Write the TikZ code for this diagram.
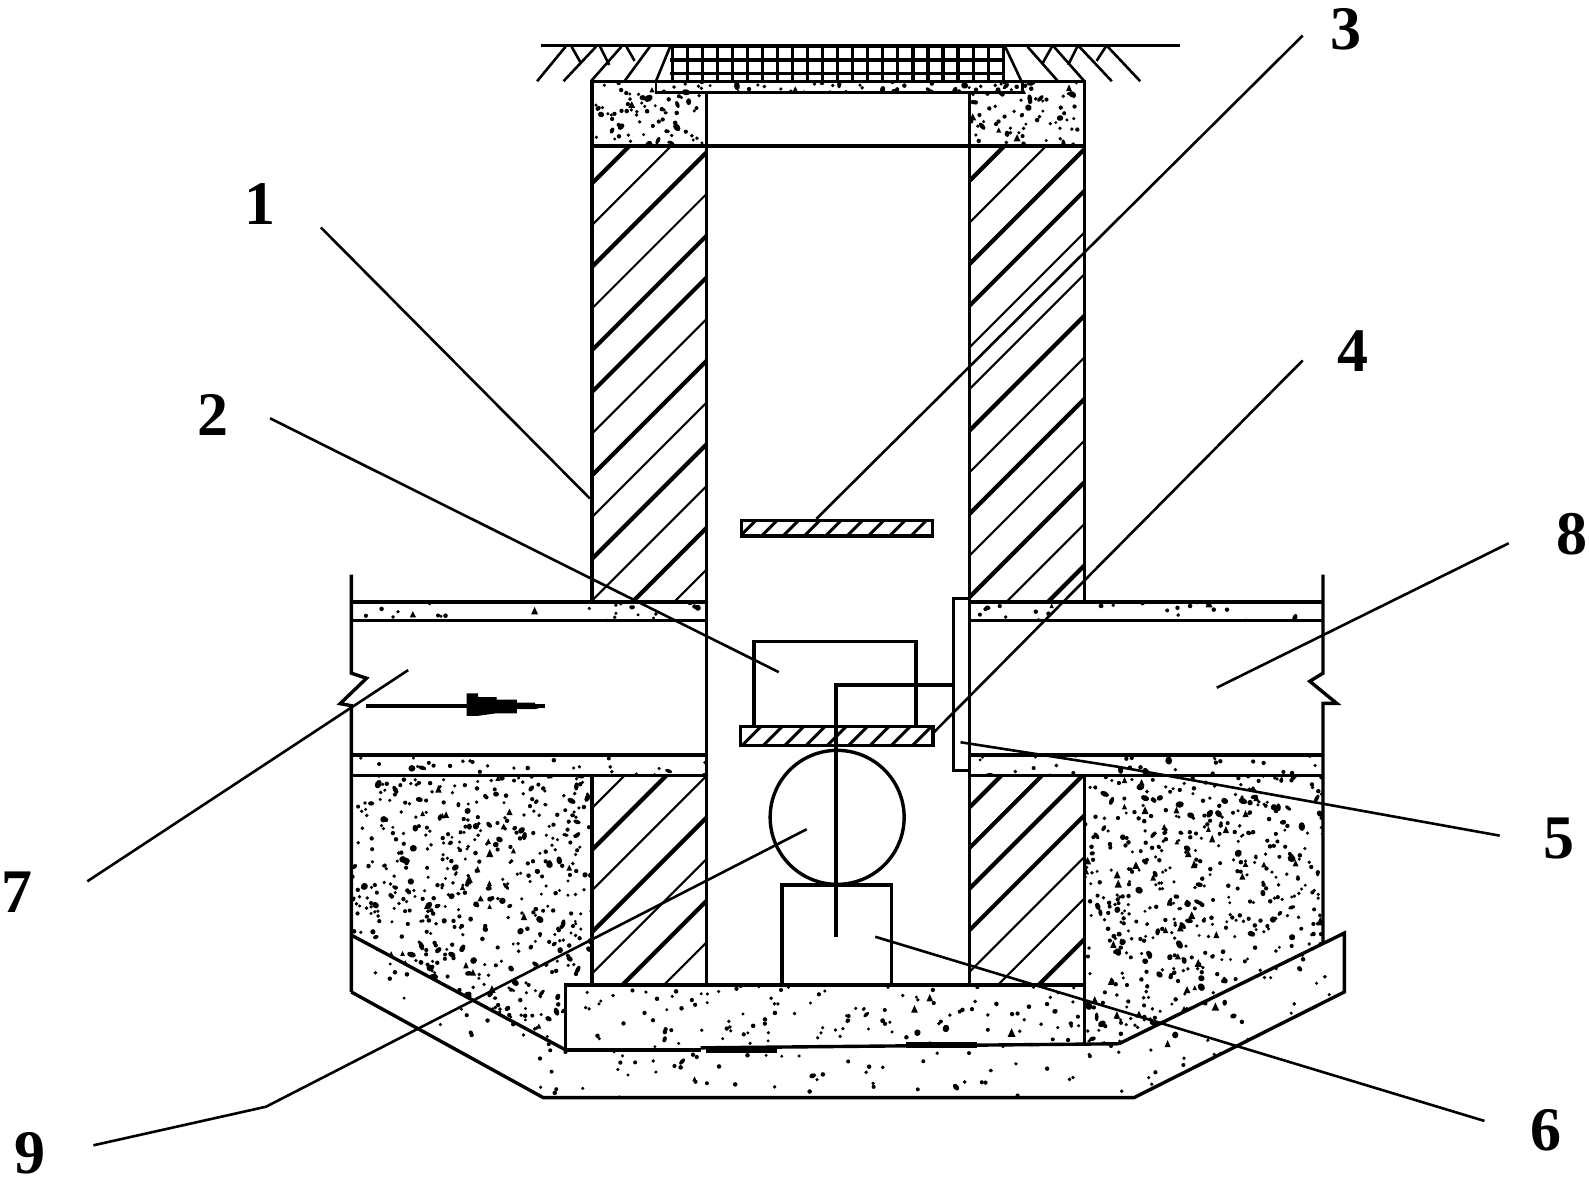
\documentclass[tikz,border=0pt]{standalone}
\usepackage{fontspec}
\setmainfont{Liberation Serif}
\tikzset{
  ln/.style={line width=1.7pt,line join=miter},
  lead/.style={line width=1.3pt},
  hatchA/.style={line width=1.05pt},
  hatchB/.style={line width=2.1pt},
  gridline/.style={line width=1.6pt},
  num/.style={font=\fontsize{31}{31}\selectfont\bfseries,inner sep=0pt},
}
\newcommand{\stipplefill}[7]{% path, n, xmin, xmax, ymin, ymax, blob fraction
  \begin{scope}
    \clip #1;
    \foreach \i in {1,...,#2}{
      \pgfmathsetmacro\sx{#3+rnd*(#4-#3)}
      \pgfmathsetmacro\sy{#5+rnd*(#6-#5)}
      \pgfmathsetmacro\sk{rnd}
      \ifdim\sk pt<#7pt
        \pgfmathsetmacro\sa{1.2+1.1*rnd}
        \pgfmathsetmacro\sb{0.9+0.8*rnd}
        \pgfmathsetmacro\sc{rnd*180}
        \pgfmathsetmacro\sq{rnd}
        \ifdim\sq pt<0.3pt
          \fill (\sx,\sy-\sa-\sa)--(\sx+\sa+\sb,\sy+\sa+\sb)--(\sx-\sa-\sb,\sy+\sa+\sb)--cycle;
        \else
          \fill (\sx,\sy) circle[x radius=\sa pt,y radius=\sb pt,rotate=\sc];
        \fi
      \else
        \pgfmathsetmacro\sr{0.8+0.35*rnd}
        \fill (\sx,\sy) circle[radius=\sr pt];
      \fi
    }
  \end{scope}
}
\begin{document}
\begin{tikzpicture}[x=0.50767pt,y=-0.50767pt]
\useasboundingbox (0,0) rectangle (1565,1163.3);
\pgfmathsetseed{90731}
% stipple
\stipplefill{(583,80) rectangle (696,143)}{75}{583}{696}{80}{143}{0.2}
\stipplefill{(955,80) rectangle (1068,143)}{75}{955}{1068}{80}{143}{0.2}
\stipplefill{(647,80) rectangle (1006,91)}{40}{647}{1006}{80}{91}{0.15}
\stipplefill{(346,593) rectangle (696,611)}{24}{346}{696}{593}{611}{0.15}
\stipplefill{(955,593) rectangle (1303,611)}{24}{955}{1303}{593}{611}{0.15}
\stipplefill{(346,744) rectangle (696,764)}{30}{346}{696}{744}{764}{0.15}
\stipplefill{(955,744) rectangle (1303,764)}{30}{955}{1303}{744}{764}{0.15}
\stipplefill{(346,764)--(583,764)--(583,970)--(557,970)--(557,1034)--(346,921)--cycle}{640}{346}{583}{764}{1034}{0.2}
\stipplefill{(1068,764)--(1303,764)--(1303,929)--(1102,1028)--(1068,1028)--cycle}{640}{1068}{1303}{764}{1030}{0.2}
\stipplefill{(557,970) rectangle (1068,1032)}{130}{557}{1068}{970}{1032}{0.1}
\stipplefill{(346,921)--(346,977)--(535,1081)--(1117,1081)--(1324,977)--(1324,919)--(1102,1028)--(557,1034)--cycle}{330}{346}{1324}{919}{1081}{0.1}
% wall hatching
\begin{scope}
  \clip (583,143) rectangle (696,593);
  \foreach \yy/\st in {180.6/hatchB,221.7/hatchA,262.8/hatchB,303.9/hatchA,345/hatchB,386.1/hatchB,427.2/hatchA,468.3/hatchB,509.4/hatchA,550.5/hatchB,591.6/hatchA,632.7/hatchB,673.8/hatchA}
    \draw[\st] (583,\yy)--++(115,-115);
\end{scope}
\begin{scope}
  \clip (955,143) rectangle (1068,593);
  \foreach \yy/\st in {178/hatchB,219/hatchA,260/hatchB,301/hatchB,342/hatchA,383/hatchA,424/hatchB,465/hatchA,506/hatchB,547/hatchA,588/hatchB,629/hatchA,670/hatchB}
    \draw[\st] (955,\yy)--++(115,-115);
\end{scope}
\begin{scope}
  \clip (583,764) rectangle (696,970);
  \foreach \yy/\st in {796/hatchA,837/hatchB,877/hatchA,918/hatchB,959/hatchA,1000/hatchB,1041/hatchA}
    \draw[\st] (583,\yy)--++(115,-115);
\end{scope}
\begin{scope}
  \clip (955,764) rectangle (1068,970);
  \foreach \yy/\st in {795/hatchB,835/hatchB,875/hatchB,916/hatchB,957/hatchA,998/hatchA,1038/hatchB}
    \draw[\st] (955,\yy)--++(115,-115);
\end{scope}
\begin{scope}
  \clip (730.5,512) rectangle (919,528);
  \foreach \k in {0,...,10}{\draw[line width=1.5pt] (725+\k*21,532)--++(22,-22);}
\end{scope}
\begin{scope}
  \clip (729.5,716) rectangle (919,734);
  \foreach \k in {0,...,10}{\draw[line width=1.5pt] (727+\k*21,738)--++(24,-24);}
\end{scope}
% ground
\coordinate (gl) at (533,45); \coordinate (gr) at (1162,45);
\draw[ln] (gl)--(gr);
\draw[lead] (557,46)--(529,80) (587,46)--(555,80) (612,46)--(582,80) (640,46)--(615,80)
  (563,46)--(572,62) (591,46)--(600,64) (617,46)--(625,60)
  (1012,46)--(1042,80) (1038,46)--(1068,80) (1063,46)--(1095,80) (1091,46)--(1123,80)
  (1036,46)--(1027,62) (1061,46)--(1052,64) (1089,46)--(1080,60);
% grating
\begin{scope}
  \clip (660,45) rectangle (990,81);
  \foreach \k in {0,...,22}{\draw[gridline] (662+\k*14.82,45)--(662+\k*14.82,80);}
  \foreach \k in {46,59,72}{\draw[gridline] (660,\k)--(990,\k);}
\end{scope}
\draw[lead] (660,46)--(646,80) (990,46)--(1006,80);
\draw[lead] (646,80)--(646,91)--(1007,91)--(1007,80);
% collar and walls
\draw[ln] (583,593)--(583,80)--(1068,80)--(1068,593);
\draw[ln] (583,143.8)--(1068,143.8);
\draw[ln] (696,91)--(696,970);
\draw[ln] (955,91)--(955,589) (955,759)--(955,970);
% pipes
\draw[ln] (346,566)--(346,663)--(361,668)--(335,693)--(346,695)--(346,977);
\draw[ln] (1303,566)--(1303,663)--(1290,671)--(1316.5,692.7)--(1303,692.7)--(1303,929);
\draw[ln] (346,593)--(696,593) (346,611)--(696,611) (346,743.6)--(696,743.6) (346,764)--(696,764);
\draw[ln] (955,593)--(1303,593) (955,611)--(1303,611) (955,743.6)--(1303,743.6) (955,764)--(1303,764);
% flap
\draw[line width=1.5pt] (939,589) rectangle (955,759);
% lower walls
\draw[ln] (583,764)--(583,970);
\draw[ln] (1068,764)--(1068,1029);
% slab and foundation
\draw[ln] (690,1034)--(557,1034)--(557,970)--(1068,970);
\draw[ln] (690,1032)--(1102,1028);
\draw[ln] (346,921)--(557,1034);
\draw[ln] (346,977)--(535,1081)--(1117,1081)--(1324,977)--(1324,919)--(1102,1028);
\draw[line width=3pt] (695,1034)--(765,1034) (892,1029)--(962,1029);
% device
\draw[ln] (742.6,716)--(742.6,632)--(902,632)--(902,716);
\draw[ln] (729.5,715.7) rectangle (919,734);
\draw[ln] (730.5,512.5) rectangle (918.6,528);
\draw[ln] (939,674.7)--(823.5,674.7)--(823.5,922.6);
\draw[ln] (824.5,805) circle[radius=33.5pt];
\draw[ln] (770,969.6)--(770,871.7)--(878,871.7)--(878,969.6);
% flow arrow
\coordinate (fa) at (360,695.5); \coordinate (fb) at (537,695.5);
\draw[line width=1.7pt] (fa)--(fb);
\fill (459.6,683)--(471,683)--(471,686.5)--(489,686.5)--(489,689)--(509,689)--(509,692)--(527,692)--(527,693.5)--(537,695.5)--(527,698.5)--(509,698.5)--(509,702.5)--(489,702.5)--(471,705)--(459.6,705)--cycle;
% labels
\node[num] (n1) at (256,201) {1};
\node[num] (n2) at (210,409) {2};
\node[num] (n3) at (1326,29) {3};
\node[num] (n4) at (1333,346) {4};
\node[num] (n5) at (1535,826) {5};
\node[num] (n6) at (1523,1113) {6};
\node[num] (n7) at (17,879) {7};
\node[num] (n8) at (1548,526) {8};
\node[num] (n9) at (30,1136) {9};
% leaders
\coordinate (a1) at (316,224); \coordinate (b1) at (581,491);
\coordinate (a2) at (266,412); \coordinate (b2) at (767,662);
\coordinate (a3) at (1283,35); \coordinate (b3) at (804,511);
\coordinate (a4) at (1283,355); \coordinate (b4) at (919,722);
\coordinate (a5) at (1477,823); \coordinate (m5) at (1100,755); \coordinate (b5) at (946,731);
\coordinate (a6) at (1462,1104); \coordinate (b6) at (862,922.6);
\coordinate (a7) at (86,868); \coordinate (b7) at (402,660);
\coordinate (a8) at (1486,535); \coordinate (b8) at (1198.4,677.3);
\coordinate (a9) at (92,1128); \coordinate (m9) at (262,1090); \coordinate (b9) at (794.5,816.7);
\draw[lead] (a1)--(b1);
\draw[lead] (a2)--(b2);
\draw[lead] (a3)--(b3);
\draw[lead] (a4)--(b4);
\draw[lead] (a5)--(m5)--(b5);
\draw[lead] (a6)--(b6);
\draw[lead] (a7)--(b7);
\draw[lead] (a8)--(b8);
\draw[lead] (a9)--(m9)--(b9);
\end{tikzpicture}
\end{document}
